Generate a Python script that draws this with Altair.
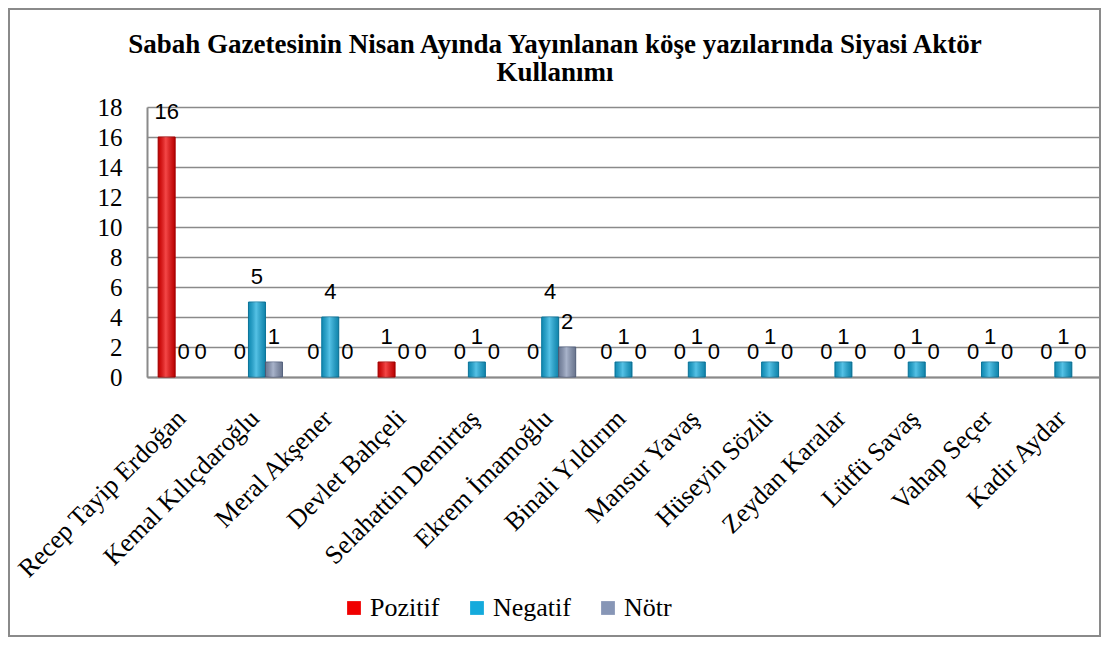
import altair as alt
import pandas as pd

categories = ["Recep Tayip Erdoğan", "Kemal Kılıçdaroğlu", "Meral Akşener", "Devlet Bahçeli",
              "Selahattin Demirtaş", "Ekrem İmamoğlu", "Binali Yıldırım", "Mansur Yavaş",
              "Hüseyin Sözlü", "Zeydan Karalar", "Lütfü Savaş", "Vahap Seçer", "Kadir Aydar"]
series = ["Pozitif", "Negatif", "Nötr"]
pozitif = [16, 0, 0, 1, 0, 0, 0, 0, 0, 0, 0, 0, 0]
negatif = [0, 5, 4, 0, 1, 4, 1, 1, 1, 1, 1, 1, 1]
notr = [0, 1, 0, 0, 0, 2, 0, 0, 0, 0, 0, 0, 0]
y_ticks = [0, 2, 4, 6, 8, 10, 12, 14, 16, 18]
title_lines = ["Sabah Gazetesinin Nisan Ayında Yayınlanan köşe yazılarında Siyasi Aktör", "Kullanımı"]
colors = ["#F00000", "#14AADC", "#8796B6"]
strokes = ["#B00000", "#0C7FA8", "#5E6C8C"]

rows = []
for i, c in enumerate(categories):
    for s, vals in zip(series, [pozitif, negatif, notr]):
        rows.append({"Aktör": c, "Seri": s, "Değer": vals[i]})
df = pd.DataFrame(rows)

W, H = 953, 270
SERIF = "Liberation Serif"

x = alt.X("Aktör:N", sort=categories,
          scale=alt.Scale(paddingInner=0.304, paddingOuter=0.152),
          axis=alt.Axis(title=None, labelAngle=-45, labelAlign="right", labelBaseline="middle",
                        labelFont=SERIF, labelFontSize=26, labelColor="#000000", labelPadding=37,
                        labelOffset=-2, labelOverlap=False,
                        ticks=False, domainColor="#8a8a8a", domainWidth=2, labelLimit=400))
y = alt.Y("Değer:Q", scale=alt.Scale(domain=[0, 18]),
          axis=alt.Axis(title=None, values=y_ticks, labelFont=SERIF, labelFontSize=25,
                        labelColor="#000000", ticks=False, labelPadding=25, labelOverlap=False,
                        labelBound=False, domainColor="#8a8a8a", domainWidth=2,
                        gridColor="#8a8a8a", gridWidth=1.6))
xo = alt.XOffset("Seri:N", sort=series)
color = alt.Color("Seri:N", sort=series, scale=alt.Scale(domain=series, range=colors),
                  legend=alt.Legend(title=None, orient="none", direction="horizontal",
                                    legendX=194, legendY=488, symbolType="square", symbolSize=190,
                                    symbolStrokeWidth=0, labelFont=SERIF, labelFontSize=26,
                                    labelColor="#000000", columnPadding=24, labelOffset=3))

base = alt.Chart(df).transform_filter("datum['Değer'] > 0")

bars = base.mark_bar(strokeWidth=1).encode(
    x=x, y=y, xOffset=xo, color=color,
    stroke=alt.Stroke("Seri:N", sort=series, scale=alt.Scale(domain=series, range=strokes), legend=None),
)

shine = base.mark_bar(
    fill=alt.Gradient(gradient="linear", x1=0, x2=1, y1=0, y2=0,
                      stops=[alt.GradientStop(color="rgba(0,0,0,0.18)", offset=0),
                             alt.GradientStop(color="rgba(255,255,255,0.28)", offset=0.45),
                             alt.GradientStop(color="rgba(0,0,0,0.22)", offset=1)]),
    strokeWidth=0).encode(x=x, y=y, xOffset=xo)

labels = alt.Chart(df).mark_text(font="Liberation Sans", fontSize=22, dy=-25, baseline="middle",
                                 color="#000000").encode(
    x=x, y=y, xOffset=xo, text="Değer:Q")

frame = alt.Chart(pd.DataFrame({"a": [0]})).mark_rect(fill=None, stroke="#8a8a8a", strokeWidth=2).encode(
    x=alt.value(-138), x2=alt.value(W), y=alt.value(-98), y2=alt.value(529))

title = alt.Chart(pd.DataFrame({"a": [0]})).mark_text(
    text=title_lines, font=SERIF, fontSize=27, fontWeight="bold", color="#000000",
    align="center", baseline="alphabetic", lineHeight=28).encode(
    x=alt.value(408), y=alt.value(-54))

chart = alt.layer(frame, bars, shine, labels, title).properties(
    width=W, height=H,
    autosize=alt.AutoSizeParams(type="none"),
    padding={"left": 139, "top": 99, "right": 1, "bottom": 261},
).configure(background="#ffffff").configure_view(stroke=None)

chart.save("out.html", embed_options={"renderer": "svg", "actions": False})
